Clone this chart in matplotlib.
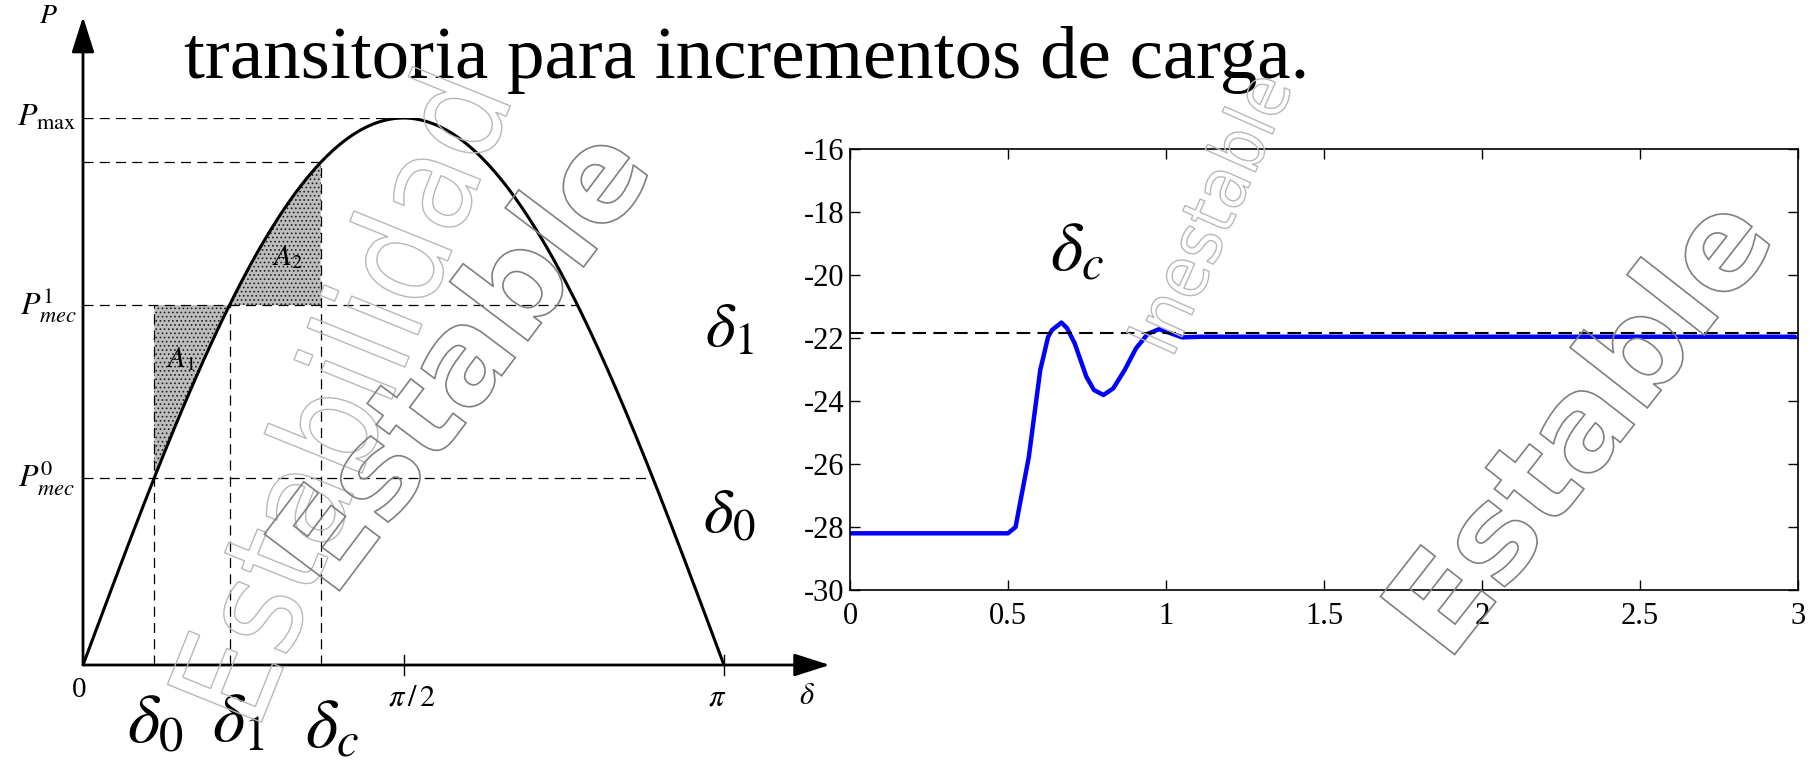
import numpy as np
import matplotlib
matplotlib.use("Agg")
import matplotlib.pyplot as plt
import matplotlib.patheffects as pe

plt.rcParams["font.family"] = ["Liberation Serif", "DejaVu Serif"]
plt.rcParams["mathtext.fontset"] = "stix"
plt.rcParams["hatch.linewidth"] = 0.7

W, H = 1809, 764

# ---- power-angle diagram (per-unit of Pmax) ----
P_MAX = 1.0
P_MEC0 = 0.342          # initial mechanical power
P_MEC1 = 0.658          # mechanical power after the load step
DELTA_C = 1.165         # clearing / maximum swing angle (rad)

# ---- time response of the rotor angle ----
t_resp = [0.0, 0.50, 0.524, 0.542, 0.566, 0.584, 0.602, 0.627, 0.639, 0.669,
          0.687, 0.711, 0.748, 0.772, 0.802, 0.833, 0.869, 0.905, 0.942, 0.978,
          1.015, 1.051, 1.11, 2.99]
delta_resp = [-28.2, -28.2, -28.0, -27.04, -25.77, -24.39, -23.02, -21.96, -21.75,
              -21.51, -21.69, -22.17, -23.23, -23.65, -23.81, -23.60, -23.02,
              -22.33, -21.87, -21.72, -21.85, -21.98, -21.96, -21.96]
delta_final = -21.85
x_ticks = [0, 0.5, 1, 1.5, 2, 2.5, 3]
x_tick_labels = ["0", "0.5", "1", "1.5", "2", "2.5", "3"]
y_ticks = [-30, -28, -26, -24, -22, -20, -18, -16]
y_tick_labels = ["-30", "-28", "-26", "-24", "-22", "-20", "-18", "-16"]

fig = plt.figure(figsize=(W / 100, H / 100), dpi=100)
fig.patch.set_facecolor("white")


def px_rect(x0, y0, x1, y1):
    """Axes rectangle from pixel corners (origin at top-left)."""
    return [x0 / W, (H - y1) / H, (x1 - x0) / W, (y1 - y0) / H]


fig.text(184 / W, 1 - 78 / H, "transitoria para incrementos de carga.",
         fontsize=54, va="baseline", ha="left")

# ================= left: equal-area criterion =================
ax1 = fig.add_axes(px_rect(83, 118, 724, 665))
ax1.set_xlim(0, np.pi)
ax1.set_ylim(0, 1)
ax1.axis("off")

d0 = np.arcsin(P_MEC0 / P_MAX)
d1 = np.arcsin(P_MEC1 / P_MAX)
pc = P_MAX * np.sin(DELTA_C)

delta = np.linspace(0, np.pi, 600)
ax1.plot(delta, P_MAX * np.sin(delta), color="black", lw=2.2, zorder=4,
         solid_capstyle="butt")

da = np.linspace(d0, d1, 100)
ax1.fill_between(da, P_MAX * np.sin(da), P_MEC1, facecolor="#bdbdbd",
                 edgecolor="#202020", hatch="....", linewidth=0, zorder=1)
db = np.linspace(d1, DELTA_C, 100)
ax1.fill_between(db, P_MEC1, P_MAX * np.sin(db), facecolor="#bdbdbd",
                 edgecolor="#202020", hatch="....", linewidth=0, zorder=1)

dash_kw = dict(color="black", lw=0.9, dashes=(8, 5), zorder=2)
ax1.plot([0, np.pi / 2], [P_MAX, P_MAX], **dash_kw)
ax1.plot([0, DELTA_C], [pc, pc], **dash_kw)
ax1.plot([0, np.pi - d1], [P_MEC1, P_MEC1], **dash_kw)
ax1.plot([0, np.pi - d0], [P_MEC0, P_MEC0], **dash_kw)
ax1.plot([d0, d0], [0, P_MEC1], **dash_kw)
ax1.plot([d1, d1], [0, P_MEC1], **dash_kw)
ax1.plot([DELTA_C, DELTA_C], [0, pc], **dash_kw)

# axes with arrow heads
arrow_kw = dict(arrowstyle="-|>,head_length=1.1,head_width=0.35", lw=2.0,
                color="black", shrinkA=0, shrinkB=0, mutation_scale=20)
ax1.annotate("", xy=(0, 1.185), xytext=(0, 0), arrowprops=arrow_kw,
             annotation_clip=False)
ax1.annotate("", xy=(3.66, 0), xytext=(0, 0), arrowprops=arrow_kw,
             annotation_clip=False)
for xt in (np.pi / 2, np.pi):
    ax1.plot([xt, xt], [-0.018, 0.018], color="black", lw=1.0, clip_on=False)

ax1.text(-0.17, 1.185, "$P$", fontsize=20, ha="center", va="center")
ax1.text(-0.03, 1.0, r"$P_{\max}$", fontsize=23, ha="right", va="center")
ax1.text(-0.03, P_MEC1, r"$P_{mec}^{1}$", fontsize=23, ha="right", va="center")
ax1.text(-0.04, P_MEC0, r"$P_{mec}^{0}$", fontsize=23, ha="right", va="center")
ax1.text(-0.02, -0.046, "0", fontsize=21, ha="center", va="center")
ax1.text(1.61, -0.06, r"$\pi\,/\,2$", fontsize=22, ha="center", va="center")
ax1.text(3.11, -0.06, r"$\pi$", fontsize=22, ha="center", va="center")
ax1.text(3.55, -0.058, r"$\delta$", fontsize=22, ha="center", va="center")
ax1.text(0.356, -0.11, r"$\delta_0$", fontsize=50, ha="center", va="center")
ax1.text(0.76, -0.11, r"$\delta_1$", fontsize=50, ha="center", va="center")
ax1.text(1.22, -0.12, r"$\delta_c$", fontsize=50, ha="center", va="center")
ax1.text(3.17, 0.61, r"$\delta_1$", fontsize=46, ha="center", va="center")
ax1.text(3.17, 0.27, r"$\delta_0$", fontsize=46, ha="center", va="center")
ax1.text(0.48, 0.56, r"$A_1$", fontsize=21, ha="center", va="center", zorder=5)
ax1.text(1.0, 0.745, r"$A_2$", fontsize=21, ha="center", va="center", zorder=5)

# ================= right: rotor angle vs time =================
ax2 = fig.add_axes(px_rect(850, 149, 1798, 590))
ax2.plot(t_resp, delta_resp, color="#0000ff", lw=3.2, zorder=2,
         solid_joinstyle="round", solid_capstyle="round")
ax2.plot([0, 3], [delta_final, delta_final], color="black", lw=1.5,
         dashes=(6.5, 3.5), zorder=3)
ax2.set_xlim(0, 3)
ax2.set_ylim(-30, -16)
ax2.set_xticks(x_ticks)
ax2.set_xticklabels(x_tick_labels)
ax2.set_yticks(y_ticks)
ax2.set_yticklabels(y_tick_labels)
ax2.tick_params(direction="in", top=True, right=True, length=7, width=1.0,
                labelsize=22)
ax2.tick_params(axis="x", pad=9)
ax2.tick_params(axis="y", pad=4)
for sp in ax2.spines.values():
    sp.set_linewidth(1.2)
ax2.text(0.72, -19.3, r"$\delta_c$", fontsize=50, ha="center", va="center")

# ================= outlined watermark lettering =================
def outline_text(x, y, s, size, rot, color, lw, **kw):
    fig.text(x / W, 1 - y / H, s, fontsize=size, rotation=rot,
             ha="center", va="center", rotation_mode="anchor",
             path_effects=[pe.PathPatchEffect(edgecolor=color, facecolor="none",
                                               linewidth=lw)], zorder=10, **kw)


outline_text(350, 400, "Estabilidad", 100, 68, "#b8b8b8", 1.0,
             family="DejaVu Sans", fontstretch="condensed")
outline_text(1215, 215, "Inestable", 52, 66, "#b8b8b8", 1.0,
             family="DejaVu Sans", fontstretch="condensed")
outline_text(466, 364, "Estable", 93, 53, "#808080", 1.2,
             family="DejaVu Sans", weight="bold")
outline_text(1585, 430, "Estable", 93, 52, "#808080", 1.2,
             family="DejaVu Sans", weight="bold")

fig.savefig("out.png", dpi=100, facecolor="white")
